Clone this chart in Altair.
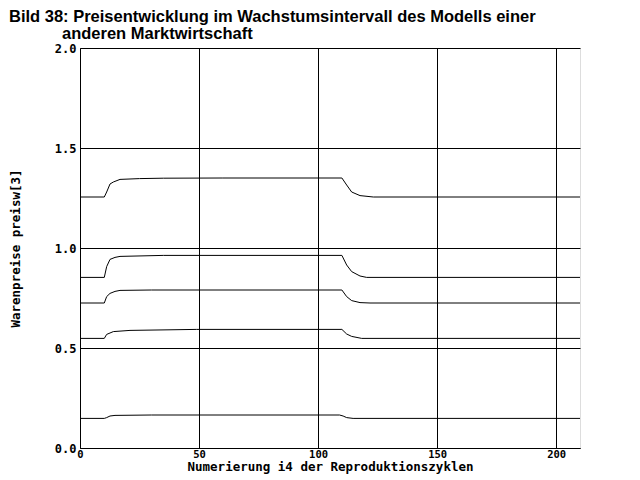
import altair as alt
import pandas as pd

# Series
x_a = [0, 10.2, 11.2, 12.6, 14, 16.8, 25, 35, 60, 110, 112, 114.1, 117.6, 123.2, 210]
y_a = [1.255, 1.255, 1.28, 1.32, 1.33, 1.343, 1.347, 1.349, 1.35, 1.35, 1.315, 1.28, 1.262, 1.255, 1.255]

x_b = [0, 10.2, 11.2, 12.6, 14.7, 16.8, 35, 110, 112, 114.1, 117.6, 120.4, 210]
y_b = [0.853, 0.853, 0.907, 0.943, 0.953, 0.958, 0.963, 0.963, 0.915, 0.882, 0.86, 0.853, 0.853]

x_c = [0, 10.2, 11.2, 12.6, 14.7, 16.8, 30, 110, 112, 114.1, 117.6, 121.8, 210]
y_c = [0.725, 0.725, 0.757, 0.773, 0.783, 0.788, 0.79, 0.79, 0.757, 0.737, 0.727, 0.725, 0.725]

x_d = [0, 10.2, 11.2, 14, 21, 49, 110, 112, 114.1, 118.3, 210]
y_d = [0.548, 0.548, 0.568, 0.582, 0.588, 0.593, 0.593, 0.57, 0.558, 0.548, 0.548]

x_e = [0, 10.2, 11.2, 12.6, 14.7, 30, 109, 110.5, 112, 114.7, 210]
y_e = [0.148, 0.148, 0.152, 0.16, 0.163, 0.165, 0.165, 0.16, 0.152, 0.148, 0.148]

title_line1 = ["Bild 38: Preisentwicklung im Wachstumsintervall des Modells einer"]
title_line2 = ["anderen Marktwirtschaft"]

series = {"a": (x_a, y_a), "b": (x_b, y_b), "c": (x_c, y_c), "d": (x_d, y_d), "e": (x_e, y_e)}
rows = []
for name, (xs, ys) in series.items():
    for i, (xv, yv) in enumerate(zip(xs, ys)):
        rows.append({"s": name, "i": i, "x": xv, "y": yv})
df = pd.DataFrame(rows)

mono = "DejaVu Sans Mono"

lines = alt.Chart(df).mark_line(color="black", strokeWidth=1).encode(
    x=alt.X("x:Q", scale=alt.Scale(domain=[0, 210], nice=False),
            axis=alt.Axis(values=[0, 50, 100, 150, 200], title="Numerierung i4 der Reproduktionszyklen",
                          ticks=False, grid=True, gridColor="black", gridOpacity=1, gridWidth=1,
                          domainColor="black", labelFont=mono, labelFontSize=10.5, labelFontWeight="bold",
                          labelColor="black", labelPadding=1, labelFlush=False,
                          titleFont=mono, titleFontSize=12.5, titleFontWeight="bold", titleColor="black",
                          titlePadding=1)),
    y=alt.Y("y:Q", scale=alt.Scale(domain=[0, 2], nice=False),
            axis=alt.Axis(values=[0, 0.5, 1.0, 1.5, 2.0], format=".1f", title="Warenpreise preisw[3]",
                          ticks=False, grid=True, gridColor="black", gridOpacity=1, gridWidth=1,
                          domainColor="black", labelFont=mono, labelFontSize=12, labelFontWeight="bold",
                          labelColor="black", labelPadding=4, labelFlush=False,
                          titleFont=mono, titleFontSize=12.5, titleFontWeight="bold", titleColor="black",
                          titleX=-65, titleY=200, titleAngle=-90, titleAlign="center", titleBaseline="middle")),
    detail="s:N",
    order="i:Q",
)

t1 = alt.Chart(pd.DataFrame({"t": title_line1})).mark_text(
    align="left", baseline="alphabetic", font="Liberation Sans", fontSize=16.5, fontWeight="bold", color="black"
).encode(x=alt.value(-71), y=alt.value(-26), text="t:N")

t2 = alt.Chart(pd.DataFrame({"t": title_line2})).mark_text(
    align="left", baseline="alphabetic", font="Liberation Sans", fontSize=16.5, fontWeight="bold", color="black"
).encode(x=alt.value(-18), y=alt.value(-9), text="t:N")

chart = alt.layer(lines, t1, t2).properties(
    width=500, height=400,
    autosize=alt.AutoSizeParams(type="none"),
    padding={"left": 72, "top": 40, "right": 50, "bottom": 30},
).configure_view(stroke="black", strokeWidth=1).configure(background="white")

chart.save("out.html", embed_options={"renderer": "svg", "actions": False})
